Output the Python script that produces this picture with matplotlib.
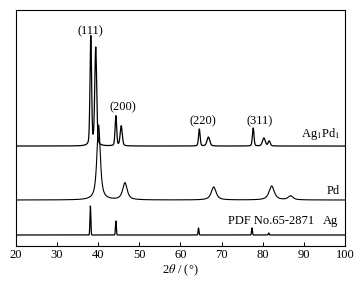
import matplotlib.pyplot as plt
import numpy as np

plt.rcParams['font.family'] = ['Liberation Serif', 'DejaVu Serif']
plt.rcParams['mathtext.fontset'] = 'stix'

# peak lists: 2theta (deg), height, FWHM (deg)
agpd_pos = [38.2, 39.4, 44.3, 45.6, 64.6, 66.8, 77.7, 80.3, 81.6]
agpd_height = [109, 98, 30, 20, 17, 9, 18, 8, 5]
agpd_fwhm = [0.45, 0.55, 0.45, 0.6, 0.45, 0.8, 0.45, 0.8, 0.6]
agpd_base = 100

pd_pos = [40.1, 46.5, 68.1, 82.2, 86.8]
pd_height = [75, 17, 13, 14, 4]
pd_fwhm = [1.0, 1.3, 1.4, 1.5, 1.4]
pd_base = 46

ag_pos = [38.1, 44.3, 64.4, 77.4, 81.5]
ag_height = [29, 14, 7, 7, 2]
ag_base = 11

tick_vals = [20, 30, 40, 50, 60, 70, 80, 90, 100]


def pattern(x, pos, height, fwhm, eta=0.7):
    # pseudo-voigt sum of peaks
    y = np.zeros_like(x)
    for p, h, w in zip(pos, height, fwhm):
        g = np.exp(-4 * np.log(2) * (x - p) ** 2 / w ** 2)
        l = 1 / (1 + 4 * (x - p) ** 2 / w ** 2)
        y += h * (eta * l + (1 - eta) * g)
    return y


x = np.linspace(20, 100, 4001)

fig = plt.figure(figsize=(3.63, 2.81), dpi=100)
ax = fig.add_axes([0.044, 0.1246, 0.906, 0.8394])

ax.plot(x, agpd_base + pattern(x, agpd_pos, agpd_height, agpd_fwhm, 0.3), color='black', lw=0.9)
ax.plot(x, pd_base + pattern(x, pd_pos, pd_height, pd_fwhm, 0.8), color='black', lw=0.8)
ax.plot(x, ag_base + pattern(x, ag_pos, ag_height, [0.25] * 5, 0.0), color='black', lw=0.9)

ax.set_xlim(20, 100)
ax.set_ylim(0, 236)
ax.set_xticks(tick_vals)
ax.set_yticks([])
ax.tick_params(axis='x', direction='in', length=3, width=0.7, labelsize=9, pad=2)
for s in ax.spines.values():
    s.set_linewidth(0.8)

fs = 9
ax.text(38.0, 215, '(111)', ha='center', va='center', fontsize=fs)
ax.text(46.0, 139, '(200)', ha='center', va='center', fontsize=fs)
ax.text(65.5, 125, '(220)', ha='center', va='center', fontsize=fs)
ax.text(79.3, 125, '(311)', ha='center', va='center', fontsize=fs)
ax.text(98.8, 112, r'Ag$_1$Pd$_1$', ha='right', va='center', fontsize=fs)
ax.text(98.8, 55, 'Pd', ha='right', va='center', fontsize=fs)
ax.text(71.6, 25, 'PDF No.65-2871', ha='left', va='center', fontsize=fs)
ax.text(98.3, 25, 'Ag', ha='right', va='center', fontsize=fs)

ax.set_xlabel(r'2$\it{\theta}$ / (°)', fontsize=fs, labelpad=1)

fig.savefig('out.png', dpi=100)
